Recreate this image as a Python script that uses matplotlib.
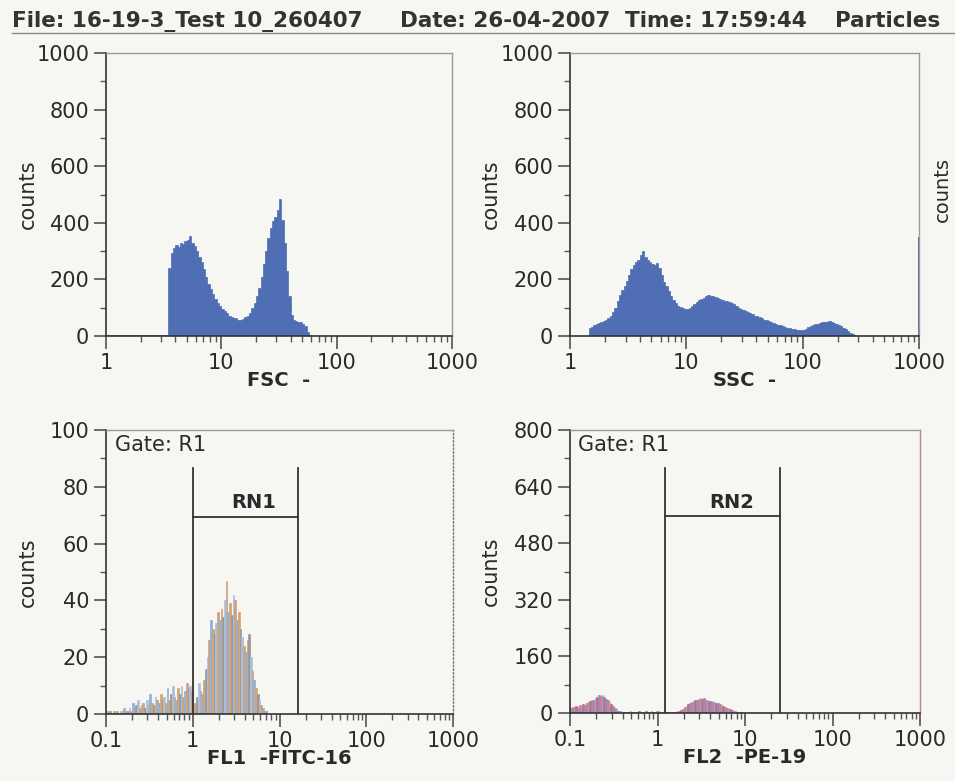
import numpy as np
import matplotlib
matplotlib.use("Agg")
import matplotlib.pyplot as plt

# 流式细胞仪的直方图数据, 每个bin在log10刻度上宽0.02
bin_w = 0.02

# FSC: 从log10 = 0.00开始
fsc_start = 0.0
fsc_counts = [3, 2, 4, 3, 2, 3, 4, 2, 3, 3, 2, 4, 3, 3, 2, 3, 4, 3, 2, 3, 3, 4, 2, 3, 4, 3,
              5, 240, 295, 310, 320, 315, 330, 325, 335, 340, 352, 330, 318, 300, 280, 262,
              235, 210, 185, 165, 150, 132, 118, 105, 95, 88, 80, 72, 68, 64, 62, 58, 57,
              60, 66, 72, 82, 98, 118, 140, 170, 210, 255, 300, 345, 380, 405, 420, 445,
              485, 410, 330, 230, 140, 75, 58, 52, 50, 48, 42, 35, 15, 3]

# SSC: 从log10 = 0.16开始
ssc_start = 0.16
ssc_counts = [28, 32, 38, 42, 45, 48, 52, 58, 62, 70, 85, 100, 125, 145, 162, 178, 195, 215,
              235, 250, 262, 270, 285, 300, 280, 268, 262, 255, 250, 258, 240, 215, 192, 175,
              160, 142, 128, 115, 105, 102, 98, 96, 95, 100, 106, 112, 120, 126, 130, 136,
              140, 145, 142, 140, 137, 134, 132, 128, 125, 122, 120, 115, 112, 106, 100, 96,
              92, 88, 85, 80, 76, 72, 70, 66, 62, 58, 55, 52, 50, 46, 44, 40, 38, 36, 33, 30,
              28, 26, 24, 22, 21, 20, 22, 26, 32, 36, 40, 42, 44, 46, 48, 50, 51, 52, 50, 47,
              43, 38, 34, 30, 24, 18, 12, 6, 3, 1, 1]
ssc_last = 350  # 最后一个通道

# FL1 -FITC-16: 从log10 = -1.00开始
fl1_start = -1.0
fl1_counts = [1, 1, 1, 0, 1, 1, 1, 0, 1, 1, 2, 1, 1, 2, 1,
              4, 2, 3, 5, 2, 3, 4, 2, 5, 3, 7, 4, 3, 6, 5, 4, 7, 5, 6, 4, 9, 5, 7, 10, 6, 5,
              9, 7, 10, 6, 8, 11, 9, 10, 8, 3, 4, 6, 11, 8, 7, 12, 16, 20, 26, 33, 30, 28, 32,
              36, 33, 37, 34, 40, 47, 36, 39, 35, 42, 40, 33, 36, 30, 27, 24, 22, 26, 28, 20,
              15, 12, 9, 7, 5, 3, 2, 1, 1, 0]

# FL2 -PE-19: 从log10 = -1.00开始
fl2_start = -1.0
fl2_counts = [15, 18, 16, 20, 18, 22, 20, 25, 24, 28, 30, 33, 36, 38, 42, 45, 52, 48, 50, 44,
              40, 36, 32, 26, 20, 15, 10, 7, 5, 4,
              3, 4, 2, 3, 5, 3, 2, 4, 3, 5, 3, 4, 2, 6, 3, 4, 5, 3, 4, 6,
              5, 3, 4, 3, 2, 3, 2, 3, 4, 3, 4, 5, 6, 9, 12, 16, 20, 25, 28, 31, 33, 36, 38, 40,
              42, 40, 41, 38, 36, 35, 33, 31, 30, 28, 27, 25, 23, 20, 17, 14, 12, 10, 8, 6, 5,
              4, 3, 2, 1]
fl2_last = 820

# 门 (gate) 的范围
rn1_gate = [1.0, 16.3]
rn1_level = 69.5
rn1_top = 86.6
rn2_gate = [1.22, 25.1]
rn2_level = 557
rn2_top = 692

bg = "#f6f6f3"
ink = "#2a2a2a"
blue = "#4e6db3"
fl1_colors = ["#8fb0da", "#d7a26c", "#9a9a9a", "#a9c0e0", "#c8a47e"]
fl2_colors = ["#7f95cc", "#d47a86", "#9aa6d6", "#c96a78"]


def bins_of(start, counts):
    lo = start + bin_w * np.arange(len(counts))
    left = 10 ** lo
    width = 10 ** (lo + bin_w) - left
    return left, width


def style_axes(ax, xlim, xt, xtl, ylim, yt, ymin, xlabel):
    ax.set_facecolor(bg)
    ax.set_xscale("log")
    ax.set_xlim(*xlim)
    ax.set_ylim(*ylim)
    ax.set_xticks(xt, labels=xtl)
    ax.xaxis.set_minor_locator(matplotlib.ticker.LogLocator(base=10, subs=range(2, 10)))
    ax.xaxis.set_minor_formatter(matplotlib.ticker.NullFormatter())
    ax.set_yticks(yt)
    ax.set_yticks(ymin, minor=True)
    ax.tick_params(which="major", length=9, width=1.1, color="#444", labelsize=15,
                   labelcolor=ink, pad=3)
    ax.tick_params(which="minor", length=4, width=1.0, color="#555")
    for s in ["left", "bottom"]:
        ax.spines[s].set_color("#333")
        ax.spines[s].set_linewidth(1.2)
    for s in ["top", "right"]:
        ax.spines[s].set_color("#9a9a9a")
        ax.spines[s].set_linewidth(1.0)
    ax.set_ylabel("counts", fontsize=15, color=ink)
    ax.yaxis.set_label_coords(-0.197, 0.5)
    ax.set_xlabel(xlabel, fontsize=14, fontweight="bold", color=ink)
    ax.xaxis.set_label_coords(0.5, -0.125)


fig = plt.figure(figsize=(9.55, 7.81), dpi=100, facecolor=bg)

# 标题
title_parts = ["File: 16-19-3_Test 10_260407", "Date: 26-04-2007", "Time: 17:59:44", "Particles"]
title_x = [12, 400, 625, 835]
for t, x in zip(title_parts, title_x):
    fig.text(x / 955, 1 - 27 / 781, t, fontsize=15.5, fontweight="bold", color="#333",
             va="baseline", ha="left")
fig.add_artist(plt.Line2D([12 / 955, 1.0], [1 - 33 / 781] * 2, color="#8a8a8a", lw=1.0))

# 右侧第三列的纵轴标签 (只露出一点)
fig.text(933 / 955, 1 - 189 / 781, "counts", rotation=90, fontsize=14, color=ink,
         ha="left", va="center")

ax1 = fig.add_axes([106 / 955, 1 - 336 / 781, 346 / 955, 283 / 781])
ax2 = fig.add_axes([570 / 955, 1 - 336 / 781, 349 / 955, 283 / 781])
ax3 = fig.add_axes([106 / 955, 1 - 714 / 781, 347 / 955, 284 / 781])
ax4 = fig.add_axes([570 / 955, 1 - 713 / 781, 350 / 955, 283 / 781])

# FSC
left, width = bins_of(fsc_start, fsc_counts)
ax1.bar(left, fsc_counts, width=width, align="edge", color=blue, edgecolor=blue, linewidth=0.5)
style_axes(ax1, (1, 1000), [1, 10, 100, 1000], ["1", "10", "100", "1000"], (0, 1000),
           [0, 200, 400, 600, 800, 1000], [100, 300, 500, 700, 900], "FSC  -")

# SSC
left, width = bins_of(ssc_start, ssc_counts)
ax2.bar(left, ssc_counts, width=width, align="edge", color=blue, edgecolor=blue, linewidth=0.5)
ax2.bar(10 ** 2.99, ssc_last, width=1000 - 10 ** 2.99, align="edge", color=blue, linewidth=0)
style_axes(ax2, (1, 1000), [1, 10, 100, 1000], ["1", "10", "100", "1000"], (0, 1000),
           [0, 200, 400, 600, 800, 1000], [100, 300, 500, 700, 900], "SSC  -")

# FL1
left, width = bins_of(fl1_start, fl1_counts)
cols = [fl1_colors[i % len(fl1_colors)] for i in range(len(fl1_counts))]
ax3.bar(left, fl1_counts, width=width, align="edge", color=cols, edgecolor=cols, linewidth=0.5)
style_axes(ax3, (0.1, 1000), [0.1, 1, 10, 100, 1000], ["0.1", "1", "10", "100", "1000"],
           (0, 100), [0, 20, 40, 60, 80, 100], [10, 30, 50, 70, 90], "FL1  -FITC-16")
ax3.spines["right"].set_linestyle(":")
ax3.spines["right"].set_color("#777")
ax3.plot([rn1_gate[0]] * 2, [0, rn1_top], color="#333", lw=1.3)
ax3.plot([rn1_gate[1]] * 2, [0, rn1_top], color="#333", lw=1.3)
ax3.plot(rn1_gate, [rn1_level] * 2, color="#333", lw=1.3)
ax3.text(10 ** 0.7, rn1_level + 1.5, "RN1", fontsize=14, fontweight="bold", color=ink,
         ha="center", va="bottom")
ax3.text(0.026, 0.947, "Gate: R1", transform=ax3.transAxes, fontsize=15, color=ink,
         ha="left", va="center")

# FL2
left, width = bins_of(fl2_start, fl2_counts)
cols = [fl2_colors[i % len(fl2_colors)] for i in range(len(fl2_counts))]
ax4.bar(left, fl2_counts, width=width, align="edge", color=cols, edgecolor=cols, linewidth=0.5)
ax4.bar(10 ** 2.995, fl2_last, width=1000 - 10 ** 2.995, align="edge", color="#c27a80",
        linewidth=0)
style_axes(ax4, (0.1, 1000), [0.1, 1, 10, 100, 1000], ["0.1", "1", "10", "100", "1000"],
           (0, 800), [0, 160, 320, 480, 640, 800], [80, 240, 400, 560, 720], "FL2  -PE-19")
ax4.spines["right"].set_color("#b8868a")
ax4.plot([rn2_gate[0]] * 2, [0, rn2_top], color="#333", lw=1.3)
ax4.plot([rn2_gate[1]] * 2, [0, rn2_top], color="#333", lw=1.3)
ax4.plot(rn2_gate, [rn2_level] * 2, color="#333", lw=1.3)
ax4.text(10 ** 0.85, rn2_level + 12, "RN2", fontsize=14, fontweight="bold", color=ink,
         ha="center", va="bottom")
ax4.text(0.023, 0.947, "Gate: R1", transform=ax4.transAxes, fontsize=15, color=ink,
         ha="left", va="center")

fig.savefig("out.png", dpi=100, facecolor=bg)
